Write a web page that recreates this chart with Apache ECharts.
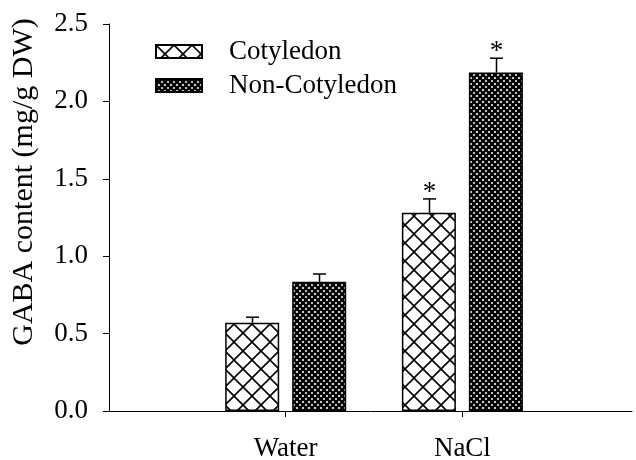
<!DOCTYPE html>
<html>
<head>
<meta charset="utf-8">
<style>html,body{margin:0;padding:0;background:#fff}#c{width:636px;height:460px}</style>
<script src="https://cdn.jsdelivr.net/npm/echarts@6/dist/echarts.min.js"></script>
</head>
<body>
<div id="c"></div>
<script>
// ---- data ----
const categories = ['Water', 'NaCl'];
const categoryPos = [1, 2];
const cotyledon = [0.57, 1.28];
const cotyledonErr = [0.036, 0.09];
const cotyledonSig = [0, 1];
const nonCotyledon = [0.835, 2.186];
const nonCotyledonErr = [0.05, 0.093];
const nonCotyledonSig = [0, 1];
const seriesNames = ['Cotyledon', 'Non-Cotyledon'];
const yMin = 0, yMax = 2.5, yStep = 0.5;

const FONT = "'Liberation Serif', 'Times New Roman', serif";

function hatch(size, lw) {
  const c = document.createElement('canvas');
  c.width = size; c.height = size;
  const g = c.getContext('2d');
  g.fillStyle = '#fff'; g.fillRect(0, 0, size, size);
  g.strokeStyle = '#000'; g.lineWidth = lw;
  for (const dx of [-size, 0, size]) {
    g.beginPath(); g.moveTo(dx, 0); g.lineTo(dx + size, size); g.stroke();
    g.beginPath(); g.moveTo(dx + size, 0); g.lineTo(dx, size); g.stroke();
  }
  return c;
}
const patCot = { image: hatch(18, 1.6), repeat: 'repeat' };
const patNon = { image: hatch(6, 2.3), repeat: 'repeat' };

const BAR_W = 54, BAR_GAP = 13;
const half = (BAR_W + BAR_GAP) / 2;

function pairs(vals) { return categoryPos.map((x, i) => [x, vals[i]]); }
function errData(vals, errs, sig) { return categoryPos.map((x, i) => [x, vals[i], errs[i], sig[i]]); }

function errRender(offset) {
  return function (params, api) {
    const x = api.value(0), y = api.value(1), e = api.value(2), s = api.value(3);
    const p0 = api.coord([x, y]);
    const p1 = api.coord([x, y + e]);
    const cx = Math.round(p0[0] + offset) + 0.5;
    const children = [
      { type: 'line', shape: { x1: cx, y1: p0[1], x2: cx, y2: p1[1] }, style: { stroke: '#000', lineWidth: 1.5 } },
      { type: 'line', shape: { x1: cx - 6.5, y1: p1[1], x2: cx + 6.5, y2: p1[1] }, style: { stroke: '#000', lineWidth: 1.5 } }
    ];
    if (s) {
      children.push({ type: 'text', x: cx, y: p1[1] + 7, style: { text: '*', font: '27px ' + FONT, fill: '#000', align: 'center', verticalAlign: 'bottom' } });
    }
    return { type: 'group', children };
  };
}

const chart = echarts.init(document.getElementById('c'), null, { renderer: 'canvas' });
chart.setOption({
  backgroundColor: '#fff',
  animation: false,
  grid: { left: 109, right: 4, top: 24, bottom: 49, containLabel: false, outerBoundsMode: 'none' },
  legend: {
    orient: 'vertical', left: 150, top: 33,
    itemWidth: 46, itemHeight: 13, itemGap: 7,
    icon: 'rect',
    textStyle: { fontFamily: FONT, fontSize: 27, color: '#000', padding: [0, 0, 0, 22] },
    data: seriesNames
  },
  xAxis: {
    type: 'value', min: 0, max: 2.96, interval: 1,
    splitLine: { show: false },
    axisLine: { show: true, lineStyle: { color: '#000', width: 1 } },
    axisTick: { show: true, length: 6, customValues: categoryPos, lineStyle: { color: '#000' } },
    axisLabel: {
      customValues: categoryPos,
      formatter: v => { const i = categoryPos.indexOf(v); return i >= 0 ? categories[i] : ''; },
      fontFamily: FONT, fontSize: 27, color: '#000', margin: 24
    }
  },
  yAxis: {
    type: 'value', min: yMin, max: yMax, interval: yStep,
    splitLine: { show: false },
    axisLine: { show: true, lineStyle: { color: '#000', width: 1 } },
    axisTick: { show: true, length: 6, lineStyle: { color: '#000' } },
    axisLabel: { formatter: v => v.toFixed(1), fontFamily: FONT, fontSize: 27, color: '#000', margin: 21 }
  },
  graphic: [{
    type: 'text', x: 24, y: 182, rotation: Math.PI / 2,
    style: { text: 'GABA content (mg/g DW)', font: '30px ' + FONT, fill: '#000', align: 'center', verticalAlign: 'middle' }
  }],
  series: [
    { name: seriesNames[0], type: 'bar', data: pairs(cotyledon), barWidth: BAR_W, barGap: (BAR_GAP / BAR_W * 100) + '%',
      itemStyle: { color: patCot, borderColor: '#000', borderWidth: 1.5 } },
    { name: seriesNames[1], type: 'bar', data: pairs(nonCotyledon), barWidth: BAR_W,
      itemStyle: { color: patNon, borderColor: '#000', borderWidth: 1.5 } },
    { type: 'custom', data: errData(cotyledon, cotyledonErr, cotyledonSig), renderItem: errRender(-half), z: 5, silent: true },
    { type: 'custom', data: errData(nonCotyledon, nonCotyledonErr, nonCotyledonSig), renderItem: errRender(half), z: 5, silent: true }
  ]
});
</script>
</body>
</html>
